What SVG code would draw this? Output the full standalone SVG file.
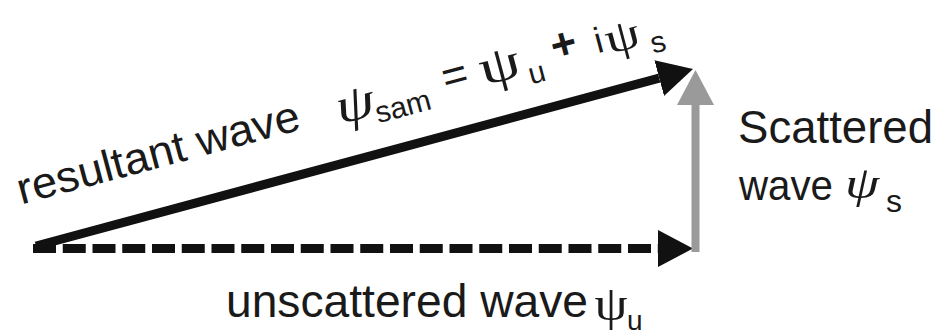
<svg xmlns="http://www.w3.org/2000/svg" width="938" height="335" viewBox="0 0 938 335">
<style>
.sans{font-family:"Liberation Sans",Arial,sans-serif;fill:#1a1a1a}
.serif{font-family:"Liberation Serif","Times New Roman",serif;fill:#1a1a1a}
.main{font-size:44px}
.sub{font-size:30px}
.blk{stroke:#111;stroke-width:9;fill:none}
.gry{stroke:#9a9a9a;stroke-width:8;fill:none}
</style>
<defs>
<marker id="hb" markerUnits="userSpaceOnUse" viewBox="0 -19 35 38" refX="0" refY="0" markerWidth="35" markerHeight="38" orient="auto">
<path d="M0,-18.5 L35,0 L0,18.5 Z" fill="#111"/>
</marker>
<marker id="hg" markerUnits="userSpaceOnUse" viewBox="0 -19 35 38" refX="0" refY="0" markerWidth="35" markerHeight="38" orient="auto">
<path d="M0,-18.5 L35,0 L0,18.5 Z" fill="#9a9a9a"/>
</marker>
</defs>
<rect width="938" height="335" fill="#fff"/>
<g id="connectors">
<line id="unscattered" class="blk" x1="33" y1="248.5" x2="658" y2="248.5" stroke-dasharray="23 6.75" marker-end="url(#hb)"/>
<line id="resultant" class="blk" x1="36" y1="246" x2="659.2" y2="78.1" marker-end="url(#hb)"/>
<line id="scattered" class="gry" x1="695.5" y1="252" x2="695.5" y2="105" marker-end="url(#hg)"/>
</g>
<g id="label-resultant" transform="translate(23,203) rotate(-15)">
<text class="sans main" x="-2" y="1" textLength="291" lengthAdjust="spacingAndGlyphs">resultant wave</text>
<text class="serif" font-size="50" font-style="italic" transform="translate(346,6) scale(1.25,1)" text-anchor="middle">ψ</text>
<text class="sans sub" x="392" y="15" text-anchor="middle">sam</text>
<text class="sans main" x="450" y="3" text-anchor="middle">=</text>
<text class="serif" font-size="50" transform="translate(496,6) scale(1.3,1)" text-anchor="middle">ψ</text>
<text class="sans sub" x="530" y="17" text-anchor="middle">u</text>
<text class="sans main" font-weight="bold" x="563" y="1" text-anchor="middle">+</text>
<text class="sans" font-size="36" x="598" y="4" text-anchor="middle">i</text>
<text class="serif" font-size="44" transform="translate(622,8) scale(1.25,1)" text-anchor="middle">ψ</text>
<text class="sans sub" x="655" y="19" text-anchor="middle">s</text>
</g>
<g id="label-scattered">
<text class="sans" font-size="46" x="738" y="143" textLength="195" lengthAdjust="spacingAndGlyphs">Scattered</text>
<text class="sans" font-size="42" x="739" y="200" textLength="94" lengthAdjust="spacingAndGlyphs">wave</text>
<text class="serif" font-size="44" font-style="italic" transform="translate(862,198) scale(1.25,1)" text-anchor="middle">ψ</text>
<text class="sans" font-size="32" x="886" y="212">s</text>
</g>
<g id="label-unscattered">
<text class="sans" font-size="46" x="226" y="317" textLength="362" lengthAdjust="spacingAndGlyphs">unscattered wave</text>
<text class="serif" font-size="48" transform="translate(611,320) scale(1.1,1)" text-anchor="middle">ψ</text>
<text class="sans" font-size="28" x="627" y="330">u</text>
</g>
</svg>
